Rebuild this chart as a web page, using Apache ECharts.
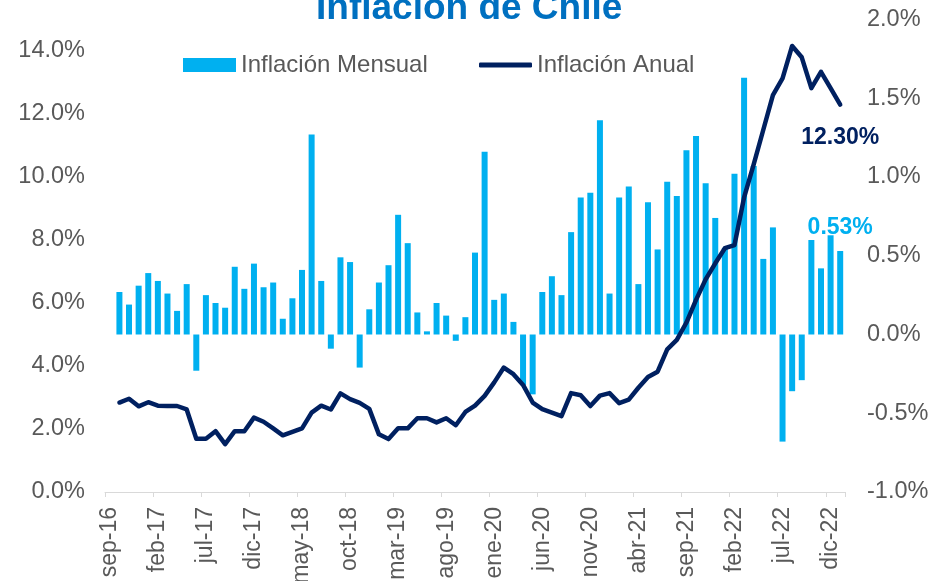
<!DOCTYPE html>
<html>
<head>
<meta charset="utf-8">
<script src="https://cdn.jsdelivr.net/npm/echarts@6/dist/echarts.min.js"></script>
<style>html,body{margin:0;padding:0;background:#fff;}#c{width:949px;height:581px;}</style>
</head>
<body>
<div id="c"></div>
<script>
const categories = [
 'sep-16','oct-16','nov-16','dic-16','ene-17','feb-17','mar-17','abr-17','may-17','jun-17','jul-17','ago-17','sep-17','oct-17','nov-17','dic-17',
 'ene-18','feb-18','mar-18','abr-18','may-18','jun-18','jul-18','ago-18','sep-18','oct-18','nov-18','dic-18',
 'ene-19','feb-19','mar-19','abr-19','may-19','jun-19','jul-19','ago-19','sep-19','oct-19','nov-19','dic-19',
 'ene-20','feb-20','mar-20','abr-20','may-20','jun-20','jul-20','ago-20','sep-20','oct-20','nov-20','dic-20',
 'ene-21','feb-21','mar-21','abr-21','may-21','jun-21','jul-21','ago-21','sep-21','oct-21','nov-21','dic-21',
 'ene-22','feb-22','mar-22','abr-22','may-22','jun-22','jul-22','ago-22','sep-22','oct-22','nov-22','dic-22',
 'ene-23'
];
// Inflación Mensual (%), right axis
const monthly = [null,
 0.27,0.19,0.31,0.39,0.34,0.26,0.15,0.32,-0.23,0.25,0.20,0.17,0.43,0.29,0.45,0.30,0.33,0.10,0.23,0.41,
 1.27,0.34,-0.09,0.49,0.46,-0.21,0.16,0.33,0.44,0.76,0.58,0.14,0.02,0.20,0.12,-0.04,0.11,0.52,1.16,0.22,
 0.26,0.08,-0.32,-0.38,0.27,0.37,0.25,0.65,0.87,0.90,1.36,0.26,0.87,0.94,0.32,0.84,0.54,0.97,0.88,1.17,
 1.26,0.96,0.74,0.55,1.02,1.63,1.07,0.48,0.68,-0.68,-0.36,-0.29,0.60,0.42,0.63,0.53
];
// Inflación Anual (%), left axis
const annual = [null,
 2.84,2.96,2.72,2.85,2.74,2.73,2.73,2.62,1.69,1.69,1.93,1.52,1.93,1.93,2.36,2.23,2.02,1.80,1.91,2.02,
 2.52,2.74,2.62,3.13,2.95,2.83,2.64,1.83,1.68,2.02,2.02,2.34,2.34,2.21,2.34,2.12,2.54,2.74,3.05,3.48,
 3.95,3.74,3.40,2.84,2.63,2.52,2.41,3.14,3.07,2.73,3.06,3.14,2.82,2.93,3.31,3.65,3.82,4.53,4.83,5.38,
 6.10,6.75,7.26,7.74,7.84,9.35,10.40,11.50,12.60,13.13,14.16,13.80,12.82,13.34,12.82,12.30
];
const leftTicks = {min: 0, max: 15, interval: 2};
const rightTicks = {min: -1, max: 2, interval: 0.5};

const FONT = 'Liberation Sans, Arial, sans-serif';
const GRAY = '#595959';
const BAR = '#00B0F0';
const LINE = '#002060';

const lastIdx = categories.length - 1;
const barData = monthly.map((v, i) => i === lastIdx ? {value: v, label: {show: true}} : v);
const lineData = annual.map((v, i) => i === lastIdx
  ? {value: v, symbol: 'circle', symbolSize: 0.1, label: {show: true}} : v);

const chart = echarts.init(document.getElementById('c'), null, {renderer: 'canvas'});
chart.setOption({
  animation: false,
  textStyle: {fontFamily: FONT},
  title: {
    text: 'Inflación de Chile',
    left: 316, top: -10, padding: 0,
    textStyle: {fontFamily: FONT, fontSize: 37, fontWeight: 'bold', color: '#0070C0'}
  },
  legend: [
    {
      left: 183, top: 53, padding: 0,
      itemWidth: 53, itemHeight: 14,
      textStyle: {fontFamily: FONT, fontSize: 24, color: GRAY},
      data: [{name: 'Inflación Mensual', icon: 'rect'}]
    },
    {
      left: 479, top: 53, padding: 0,
      itemWidth: 53, itemHeight: 5,
      textStyle: {fontFamily: FONT, fontSize: 24, color: GRAY},
      data: [{name: 'Inflación Anual', icon: 'roundRect'}]
    }
  ],
  grid: {left: 105, right: 104, top: 19.5, bottom: 89, outerBoundsMode: 'none', containLabel: false},
  xAxis: {
    type: 'category',
    data: categories,
    boundaryGap: true,
    axisLine: {lineStyle: {color: '#D9D9D9', width: 1}},
    axisTick: {show: true, interval: 4, length: 5, lineStyle: {color: '#D9D9D9'}},
    axisLabel: {interval: 4, rotate: 90, margin: 15, fontSize: 23, color: GRAY, fontFamily: FONT},
    splitLine: {show: false}
  },
  yAxis: [
    {
      type: 'value', min: leftTicks.min, max: leftTicks.max, interval: leftTicks.interval,
      axisLine: {show: false}, axisTick: {show: false}, splitLine: {show: false},
      axisLabel: {margin: 20, fontSize: 23.5, color: GRAY, fontFamily: FONT,
        formatter: v => v > 14.5 ? '' : v.toFixed(1) + '%'}
    },
    {
      type: 'value', min: rightTicks.min, max: rightTicks.max, interval: rightTicks.interval,
      axisLine: {show: false}, axisTick: {show: false}, splitLine: {show: false},
      axisLabel: {margin: 22, fontSize: 23.5, color: GRAY, fontFamily: FONT,
        formatter: v => v.toFixed(1) + '%'}
    }
  ],
  series: [
    {
      name: 'Inflación Mensual', type: 'bar', yAxisIndex: 1,
      data: barData, barWidth: 6,
      itemStyle: {color: BAR},
      label: {show: false, position: 'top', distance: 12, fontFamily: FONT, fontSize: 23, fontWeight: 'bold', color: BAR,
        formatter: p => p.value.toFixed(2) + '%'}
    },
    {
      name: 'Inflación Anual', type: 'line', yAxisIndex: 0,
      data: lineData, symbol: 'none', showSymbol: true,
      lineStyle: {color: LINE, width: 4.5, cap: 'round', join: 'round'},
      itemStyle: {color: LINE},
      label: {show: false, position: 'bottom', distance: 22, fontFamily: FONT, fontSize: 23, fontWeight: 'bold', color: LINE,
        formatter: p => p.value.toFixed(2) + '%'}
    }
  ]
});
</script>
</body>
</html>
